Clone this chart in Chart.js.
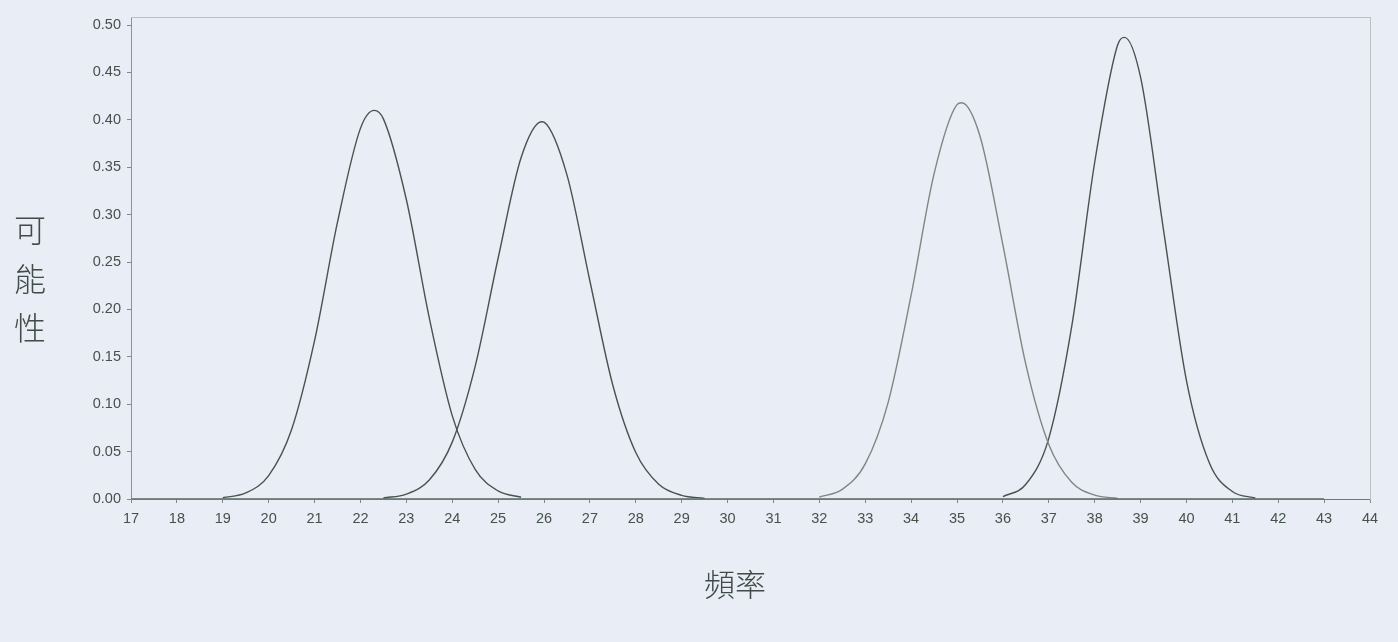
<!DOCTYPE html>
<html>
<head>
<meta charset="utf-8">
<script src="https://cdn.jsdelivr.net/npm/chart.js@4.4.1/dist/chart.umd.min.js"></script>
<style>
  html, body { margin: 0; padding: 0; background: #e9edf5; }
  #wrap { position: relative; width: 1398px; height: 642px; }
  #ytitle {
    position: absolute; left: 12px; top: 204px; width: 36px;
    font-family: "Noto Sans CJK TC", sans-serif; font-size: 32px; line-height: 49px;
    color: #3f4c47; text-align: center; font-weight: 300;
  }
  #xtitle {
    position: absolute; left: 0; width: 1470px; top: 560px;
    font-family: "Noto Sans CJK TC", sans-serif; font-size: 31px;
    color: #3f4c47; text-align: center; font-weight: 300;
  }
</style>
</head>
<body>
<div id="wrap">
  <canvas id="grafico" width="1398" height="642"></canvas>
  <div id="ytitle">可<br>能<br>性</div>
  <div id="xtitle">頻率</div>
</div>
<script>
// curvas
var x1 = [19, 19.5, 20, 20.5, 21, 21.5, 22, 22.3, 22.5, 23, 23.5, 24, 24.5, 25, 25.5];
var y1 = [0.0013, 0.0064, 0.0247, 0.0733, 0.167, 0.292, 0.391, 0.410, 0.401, 0.316, 0.191, 0.088, 0.0313, 0.0085, 0.0018];

var x2 = [22.5, 23, 23.5, 24, 24.5, 25, 25.5, 25.95, 26, 26.5, 27, 27.5, 28, 28.5, 29, 29.5];
var y2 = [0.0011, 0.0052, 0.020, 0.060, 0.140, 0.254, 0.360, 0.398, 0.3975, 0.342, 0.230, 0.120, 0.049, 0.0156, 0.0039, 0.0007];

var x3 = [32, 32.5, 33, 33.5, 34, 34.5, 35, 35.1, 35.5, 36, 36.5, 37, 37.5, 38, 38.5];
var y3 = [0.0021, 0.0102, 0.037, 0.102, 0.215, 0.343, 0.416, 0.418, 0.383, 0.268, 0.142, 0.0575, 0.0176, 0.0041, 0.0007];

var x4 = [36, 36.5, 37, 37.5, 38, 38.5, 38.65, 39, 39.5, 40, 40.5, 41, 41.5];
var y4 = [0.0026, 0.0155, 0.064, 0.182, 0.355, 0.479, 0.487, 0.445, 0.284, 0.125, 0.038, 0.0079, 0.0011];

var xBase = [17, 43];
var yBase = [0, 0];

var yTicks = [0, 0.05, 0.10, 0.15, 0.20, 0.25, 0.30, 0.35, 0.40, 0.45, 0.50];

function pontos(xs, ys) {
    var p = [];
    for (var i = 0; i < xs.length; i++) p.push({ x: xs[i], y: ys[i] });
    return p;
}

function serie(xs, ys, cor) {
    return {
        data: pontos(xs, ys),
        borderColor: cor,
        borderWidth: 1.4,
        pointRadius: 0,
        fill: false,
        cubicInterpolationMode: 'monotone'
    };
}

var corTexto = '#44524c';
var fonteTick = { family: 'Liberation Sans, Arial, sans-serif', size: 14.5 };

var graf = document.getElementById('grafico').getContext('2d');

var grafico = new Chart(graf, {
    type: 'line',
    data: {
        datasets: [
            serie(xBase, yBase, '#5a6762'),
            serie(x1, y1, '#46544f'),
            serie(x2, y2, '#46544f'),
            serie(x3, y3, '#7d8883'),
            serie(x4, y4, '#46544f')
        ]
    },
    options: {
        responsive: false,
        animation: false,
        layout: { padding: { left: 0, right: 28, top: 17, bottom: 0 } },
        plugins: { legend: { display: false }, tooltip: { enabled: false } },
        scales: {
            x: {
                type: 'linear',
                min: 17,
                max: 44,
                afterFit: function (s) { s.height = 143; },
                ticks: { stepSize: 1, color: corTexto, font: fonteTick, padding: 7, maxRotation: 0 },
                grid: { drawOnChartArea: false, drawTicks: true, tickLength: 4, color: '#7f8a86' },
                border: { color: '#6f7a76', width: 1 }
            },
            y: {
                min: 0,
                max: 0.5085,
                afterFit: function (s) { s.width = 131; },
                afterBuildTicks: function (s) {
                    s.ticks = yTicks.map(function (v) { return { value: v }; });
                },
                ticks: {
                    color: corTexto, font: fonteTick, padding: 6,
                    callback: function (v) { return v.toFixed(2); }
                },
                grid: { drawOnChartArea: false, drawTicks: true, tickLength: 4, color: '#7f8a86' },
                border: { color: '#8a9490', width: 1 }
            },
            xTopo: {
                type: 'linear', position: 'top', min: 17, max: 44,
                ticks: { display: false },
                grid: { display: false },
                afterFit: function (s) { s.height = 0; },
                border: { color: '#b9c0c0', width: 1 }
            },
            yDir: {
                position: 'right', min: 0, max: 0.5085,
                ticks: { display: false },
                grid: { display: false },
                afterFit: function (s) { s.width = 0; },
                border: { color: '#b9c0c0', width: 1 }
            }
        }
    }
});
</script>
</body>
</html>
